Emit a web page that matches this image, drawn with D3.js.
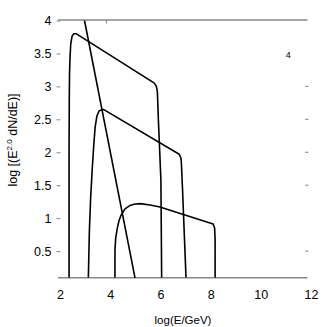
<!DOCTYPE html>
<html><head><meta charset="utf-8">
<script src="https://cdn.jsdelivr.net/npm/d3@7"></script>
<style>body{margin:0;background:#fff}svg{display:block}</style>
</head><body><div id="c"></div>
<script>
// Data
const xTicks = [2, 4, 6, 8, 10, 12];
const yTicks = [0.5, 1, 1.5, 2, 2.5, 3, 3.5, 4];
const yTickLabels = ["0.5", "1", "1.5", "2", "2.5", "3", "3.5", "4"];
const rightTicks = [0.5, 1.5, 2, 2.5, 3];
const topTicks = [3.85];

const steepX = [2.976, 4.988];
const steepY = [4.0, 0.093];

const curve1X = [2.36, 2.36, 2.37, 2.38, 2.40, 2.43, 2.48, 2.55, 2.64, 5.76, 5.84, 5.88, 5.92, 6.02, 6.05];
const curve1Y = [0.1, 2.0, 2.8, 3.2, 3.45, 3.65, 3.76, 3.80, 3.80, 3.05, 3.00, 2.92, 2.49, 1.58, 0.1];

const curve2X = [3.13, 3.17, 3.22, 3.28, 3.34, 3.40, 3.47, 3.56, 3.73, 6.75, 6.81, 6.83, 6.88, 7.02];
const curve2Y = [0.1, 0.8, 1.3, 1.72, 2.08, 2.38, 2.55, 2.63, 2.65, 1.97, 1.92, 1.88, 1.45, 0.1];

const curve3X = [4.19, 4.19, 4.22, 4.28, 4.35, 4.44, 4.59, 4.78, 4.95, 5.19, 5.59, 5.98, 8.10, 8.16, 8.18, 8.18];
const curve3Y = [0.1, 0.52, 0.70, 0.84, 0.96, 1.05, 1.14, 1.19, 1.21, 1.22, 1.20, 1.17, 0.91, 0.85, 0.67, 0.1];

const W = 327, H = 327;
const svg = d3.select("#c").append("svg").attr("width", W).attr("height", H)
  .style("font-family", "'Liberation Sans', Arial, sans-serif");

const x = d3.scaleLinear().domain([2, 12]).range([60, 311]);
const y = d3.scaleLinear().domain([0, 4]).range([284, 20.5]);
const yBottom = 277.7, yTop = 20, xLeft = 58, xRight = 307.5;
const axisColor = "#888";

// top & bottom frame lines
svg.append("line").attr("x1", xLeft).attr("x2", xRight).attr("y1", yTop).attr("y2", yTop)
  .attr("stroke", axisColor).attr("stroke-width", 1.5);
svg.append("line").attr("x1", xLeft).attr("x2", xRight).attr("y1", yBottom).attr("y2", yBottom)
  .attr("stroke", axisColor).attr("stroke-width", 1.5);
svg.selectAll(".tt").data(topTicks).enter().append("line")
  .attr("x1", d => x(d)).attr("x2", d => x(d)).attr("y1", yTop).attr("y2", yTop + 3.5)
  .attr("stroke", axisColor).attr("stroke-width", 1);
svg.selectAll(".rt").data(rightTicks).enter().append("line")
  .attr("x1", 305).attr("x2", 308.5).attr("y1", d => y(d)).attr("y2", d => y(d))
  .attr("stroke", axisColor).attr("stroke-width", 1);

// left axis (ticks + labels, no domain line)
const yAxis = d3.axisLeft(y).tickValues(yTicks).tickSize(4).tickPadding(5)
  .tickFormat((d, i) => yTickLabels[i]);
const gy = svg.append("g").attr("transform", "translate(60.5,0)").call(yAxis);
gy.select(".domain").remove();
gy.selectAll(".tick line").attr("stroke", axisColor);
gy.selectAll(".tick text").attr("font-size", 12.5).attr("fill", "#000")
  .attr("font-family", "'Liberation Sans', Arial, sans-serif");

// bottom labels
const xAxis = d3.axisBottom(x).tickValues(xTicks).tickSize(0).tickPadding(12);
const gx = svg.append("g").attr("transform", `translate(0,${yBottom})`).call(xAxis);
gx.select(".domain").remove();
gx.selectAll(".tick text").attr("font-size", 12.5).attr("fill", "#000")
  .attr("font-family", "'Liberation Sans', Arial, sans-serif");

// axis titles
svg.append("text").attr("x", 183).attr("y", 324).attr("text-anchor", "middle")
  .attr("font-size", 11.5).text("log(E/GeV)");
const yt = svg.append("text").attr("transform", "translate(17,140) rotate(-90)")
  .attr("text-anchor", "middle").attr("font-size", 12.5);
yt.append("tspan").text("log [(E");
yt.append("tspan").attr("font-size", 8).attr("dy", -5).text("2.0");
yt.append("tspan").attr("dy", 5).text(" dN/dE)]");

// small label
svg.append("text").attr("x", 288.3).attr("y", 58.3).attr("text-anchor", "middle")
  .attr("font-size", 9).text("4");

// curves
const line = d3.line().x(d => x(d[0])).y(d => y(d[1]));
const series = [[steepX, steepY], [curve1X, curve1Y], [curve2X, curve2Y], [curve3X, curve3Y]];
series.forEach(([xs, ys]) => {
  svg.append("path").datum(xs.map((v, i) => [v, ys[i]]))
    .attr("d", line).attr("fill", "none").attr("stroke", "#000")
    .attr("stroke-width", 1.6).attr("stroke-linejoin", "round");
});
</script></body></html>
